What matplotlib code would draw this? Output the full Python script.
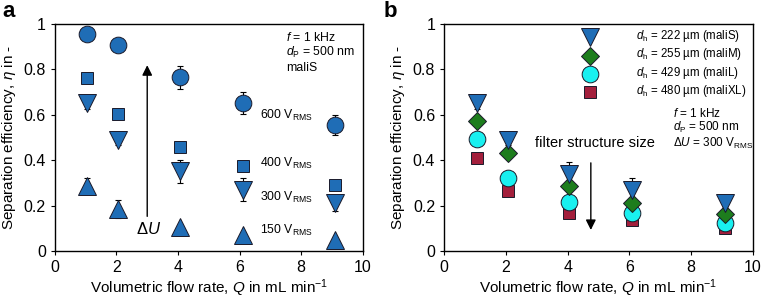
import numpy as np
import matplotlib
matplotlib.use('Agg')
from matplotlib import pyplot as plt
from matplotlib.ticker import FormatStrFormatter

plt.rcParams['font.family'] = ['Liberation Sans', 'DejaVu Sans']
plt.rcParams['mathtext.fontset'] = 'custom'
plt.rcParams['mathtext.rm'] = 'Liberation Sans'
plt.rcParams['mathtext.it'] = 'Liberation Sans:italic'

# flow rates (mL/min)
q = [1.05, 2.05, 4.05, 6.1, 9.1]

# panel a - maliS at different voltages
eta_600 = [0.955, 0.905, 0.765, 0.652, 0.555]
err_600 = [0.0, 0.0, 0.05, 0.05, 0.045]
eta_400 = [0.763, 0.604, 0.459, 0.376, 0.290]
eta_300 = [0.65, 0.49, 0.35, 0.27, 0.21]
err_300 = [0.025, 0.025, 0.05, 0.05, 0.035]
eta_150 = [0.285, 0.183, 0.105, 0.07, 0.048]
err_150 = [0.035, 0.04, 0.0, 0.0, 0.0]
volt_labels = ['600', '400', '300', '150']
volt_label_y = [0.595, 0.385, 0.235, 0.09]

# panel b - filter sizes at 300 V
eta_S = [0.65, 0.49, 0.34, 0.27, 0.21]
err_S = [0.025, 0.025, 0.05, 0.05, 0.035]
eta_M = [0.573, 0.43, 0.285, 0.213, 0.162]
eta_L = [0.493, 0.32, 0.216, 0.169, 0.123]
eta_XL = [0.41, 0.265, 0.168, 0.138, 0.103]
dh_labels = ['222 µm (maliS)', '255 µm (maliM)', '429 µm (maliL)', '480 µm (maliXL)']
key_y = [0.94, 0.86, 0.78, 0.70]

blue = '#1f6db6'
green = '#1d7d1d'
cyan = '#19f0f0'
maroon = '#a31f3c'
edge = '#1a1a2a'

fig = plt.figure(figsize=(7.62, 2.98), dpi=100)
axa = fig.add_axes([0.072, 0.158, 0.404, 0.762])
axb = fig.add_axes([0.583, 0.158, 0.405, 0.762])


def style(ax):
    ax.set_xlim(0, 10)
    ax.set_ylim(0, 1)
    ax.set_xticks([0, 2, 4, 6, 8, 10])
    ax.set_yticks([0, 0.2, 0.4, 0.6, 0.8, 1])
    ax.yaxis.set_major_formatter(FormatStrFormatter('%g'))
    ax.tick_params(direction='out', length=3, labelsize=11.5, top=False, right=False)
    ax.set_xlabel('Volumetric flow rate, $Q$ in mL min$^{-1}$', fontsize=11, labelpad=2)
    ax.set_ylabel('Separation efficiency, $\\eta$ in -', fontsize=11, labelpad=4)
    for s in ax.spines.values():
        s.set_linewidth(1.0)


def series(ax, y, marker, color, ms, err=None):
    if err is not None:
        ax.errorbar(q, y, yerr=err, fmt='none', ecolor='black', elinewidth=0.8,
                    capsize=2.5, capthick=0.8, zorder=2)
    ax.plot(q, y, linestyle='none', marker=marker, ms=ms, mfc=color, mec=edge,
            mew=0.7, zorder=3)


# panel a
style(axa)
series(axa, eta_600, 'o', blue, 12, err_600)
series(axa, eta_400, 's', blue, 9)
series(axa, eta_300, 'v', blue, 13, err_300)
series(axa, eta_150, '^', blue, 13, err_150)
for lab, yy in zip(volt_labels, volt_label_y):
    axa.text(6.65, yy, lab + ' V$_{\\mathrm{RMS}}$', fontsize=8.8, va='center')
axa.annotate('', xy=(3.0, 0.83), xytext=(3.0, 0.14),
             arrowprops=dict(arrowstyle='-|>', color='black', lw=1.0,
                             mutation_scale=15))
axa.text(3.05, 0.095, '$\\Delta U$', fontsize=12, ha='center', va='center')
axa.text(7.5, 0.94, '$f$ = 1 kHz', fontsize=8.8, va='center')
axa.text(7.5, 0.875, '$d_{\\mathrm{P}}$ = 500 nm', fontsize=8.8, va='center')
axa.text(7.5, 0.805, 'maliS', fontsize=8.8, va='center')
fig.text(0.003, 0.96, 'a', fontsize=16, fontweight='bold', va='center')

# panel b
style(axb)
series(axb, eta_XL, 's', maroon, 9)
series(axb, eta_L, 'o', cyan, 12)
series(axb, eta_M, 'D', green, 9.5)
series(axb, eta_S, 'v', blue, 13, err_S)

key_styles = [('v', blue, 13), ('D', green, 9.5), ('o', cyan, 12), ('s', maroon, 9)]
for (m, c, ms), yy, lab in zip(key_styles, key_y, dh_labels):
    axb.plot([4.72], [yy], linestyle='none', marker=m, ms=ms, mfc=c, mec=edge, mew=0.7)
    axb.text(6.2, yy + 0.005, '$d_{\\mathrm{h}}$ = ' + lab, fontsize=8.3, va='center')
axb.text(7.4, 0.605, '$f$ = 1 kHz', fontsize=8.5, va='center')
axb.text(7.4, 0.545, '$d_{\\mathrm{P}}$ = 500 nm', fontsize=8.5, va='center')
axb.text(7.4, 0.475, '$\\Delta U$ = 300 V$_{\\mathrm{RMS}}$', fontsize=8.5, va='center')
axb.text(4.88, 0.475, 'filter structure size', fontsize=10.5, ha='center', va='center')
axb.annotate('', xy=(4.75, 0.08), xytext=(4.75, 0.40),
             arrowprops=dict(arrowstyle='-|>', color='black', lw=1.0,
                             mutation_scale=15))
fig.text(0.503, 0.96, 'b', fontsize=16, fontweight='bold', va='center')

fig.savefig('out.png', dpi=100)
